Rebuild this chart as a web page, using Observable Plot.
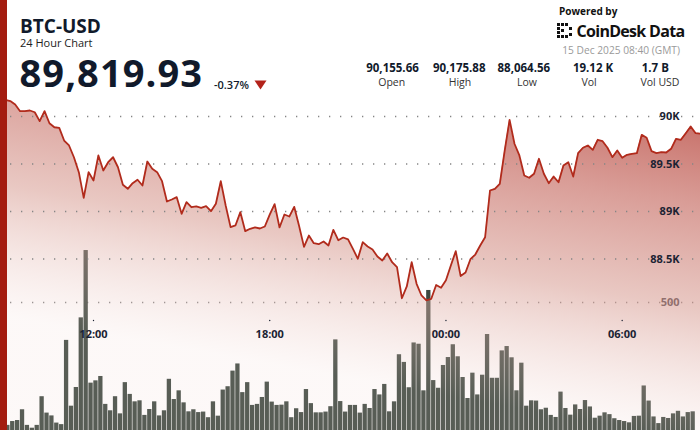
<!DOCTYPE html>
<html><head><meta charset="utf-8">
<script src="https://cdn.jsdelivr.net/npm/d3@7"></script>
<script src="https://cdn.jsdelivr.net/npm/@observablehq/plot@0.6"></script>
<style>
html,body{margin:0;padding:0;background:#fff;overflow:hidden}
#wrap{position:relative;width:700px;height:430px;font-family:"Open Sans",sans-serif;color:#111a2b;overflow:hidden}
#wrap svg{position:absolute;left:0;top:0}
.abs{position:absolute;white-space:nowrap;line-height:1}
#stripe{position:absolute;left:0;top:0;width:7px;height:430px;background:#a41c10;z-index:5}
.hdr{z-index:4}
.c{transform:translateX(-50%)}
</style></head>
<body><div id="wrap">
<div id="stripe"></div>
<div class="abs hdr" id="sym" style="left:20px;top:17.4px;font-size:19px;font-weight:700;"></div>
<div class="abs hdr" style="left:20px;top:37.4px;font-size:11px;color:#222;">24 Hour Chart</div>
<div class="abs hdr" id="price" style="left:19.5px;top:52.5px;font-size:38px;font-weight:700;letter-spacing:1.1px"></div>
<div class="abs hdr" id="chg" style="left:214px;top:79px;font-size:11px;font-weight:600;"></div>
<svg class="hdr" style="left:254px;top:80px;width:13px;height:10px;position:absolute" viewBox="0 0 13 10"><path d="M0.5,0.5 L12.5,0.5 L6.5,9.5 Z" fill="#b3221a"/></svg>
<div class="abs hdr" style="left:559px;top:5.6px;font-size:10px;font-weight:700;color:#111;">Powered by</div>
<svg class="hdr" style="left:557px;top:23px;width:16px;height:15px;position:absolute" viewBox="0 0 16 15">
<g fill="#111"><rect x="0" y="0" width="3" height="3"/><rect x="4" y="0" width="3" height="3"/><rect x="8" y="0" width="3" height="3"/><rect x="0" y="4" width="3" height="3"/><rect x="0" y="8" width="3" height="3"/><rect x="0" y="12" width="3" height="3"/><rect x="4" y="12" width="3" height="3"/><rect x="8" y="12" width="3" height="3"/><rect x="4" y="6" width="3" height="3"/><rect x="12" y="4" width="3" height="3"/><rect x="12" y="10" width="3" height="3"/></g></svg>
<div class="abs hdr" style="left:576.5px;top:23px;font-size:16px;font-weight:700;color:#111;letter-spacing:-0.7px">CoinDesk Data</div>
<div class="abs hdr" id="stamp" style="right:20px;top:45.2px;font-size:10.2px;color:#9a9a9a;"></div>
<div id="stats"></div>
</div>
<script>
// ---- header values ----
const symbol = "BTC-USD";
const lastPrice = "89,819.93";
const changePct = "-0.37%";
const stampText = "15 Dec 2025 08:40 (GMT)";
const statValues = ["90,155.66", "90,175.88", "88,064.56", "19.12 K", "1.7 B"];
const statLabels = ["Open", "High", "Low", "Vol", "Vol USD"];

// ---- series (10-minute steps from 14 Dec 2025 08:50 UTC) ----
const prices = [
90165,90176,90163,90126,90056,90056,90063,90045,89951,90056,
89929,89887,89881,89747,89695,89571,89414,89144,89414,89326,
89590,89432,89519,89571,89466,89281,89239,89298,89334,89274,
89526,89449,89414,89319,89105,89126,89151,88976,89098,89045,
89053,89039,89056,89003,89081,89319,89063,88835,88853,88993,
88793,88818,88832,88821,88842,88968,89077,88832,88968,88947,
89049,88847,88628,88747,88666,88656,88684,88642,88807,88698,
88726,88707,88607,88502,88677,88632,88600,88526,88484,88558,
88466,88414,88087,88211,88466,88239,88116,88065,88081,88226,
88197,88277,88432,88582,88321,88358,88498,88547,88642,88729,
89221,89239,89292,89642,89965,89713,89590,89379,89355,89397,
89555,89397,89298,89368,89308,89484,89519,89368,89614,89671,
89695,89649,89755,89740,89671,89572,89642,89565,89597,89607,
89614,89807,89776,89635,89614,89624,89621,89660,89765,89755,
89824,89895,89824,89820];
const volumes = [
60,20,35,39,81,20,9,20,132,68,
57,29,23,352,95,168,440,703,185,194,
211,102,77,132,65,187,141,112,116,59,
82,112,57,77,200,121,155,108,73,81,
70,72,50,112,56,158,171,232,260,148,
187,98,102,129,189,111,98,99,112,50,
85,70,160,105,69,69,72,93,354,113,
72,98,98,68,102,86,160,139,180,73,
112,296,266,167,342,337,155,547,195,165,
254,285,335,288,207,125,224,139,216,375,
204,204,311,328,284,155,263,95,116,115,
81,87,59,51,150,86,60,100,82,117,
92,48,56,69,62,46,39,35,30,55,
56,174,115,53,27,51,47,65,75,53,
70,73];
const priceTicks = [88500, 89000, 89500, 90000];
const volTicks = [500];
const timeTickLabels = ["12:00", "18:00", "00:00", "06:00"];

const start = Date.UTC(2025, 11, 14, 8, 50);
const step = 10 * 60 * 1000;
const end = Date.UTC(2025, 11, 15, 8, 40);
const priceData = prices.map((p, i) => ({t: new Date(start + i * step), p}));
const volData = volumes.map((v, i) => ({t1: new Date(start + i * step), t2: new Date(start + (i + 1) * step), v}));
const timeTicks = [Date.UTC(2025,11,14,12), Date.UTC(2025,11,14,18), Date.UTC(2025,11,15,0), Date.UTC(2025,11,15,6)].map(d => new Date(d));

// header text
document.getElementById("sym").textContent = symbol;
document.getElementById("price").textContent = lastPrice;
document.getElementById("chg").textContent = changePct;
document.getElementById("stamp").textContent = stampText;
const valX = [392.5, 459.2, 523.8, 593, 655.3];
const labX = [391.7, 460, 527, 589, 660];
const stats = document.getElementById("stats");
statValues.forEach((v, i) => {
  const a = document.createElement("div");
  a.className = "abs hdr c"; a.style.cssText = `left:${valX[i]}px;top:62.3px;font-size:11.5px;font-weight:700;`;
  a.textContent = v; stats.appendChild(a);
  const b = document.createElement("div");
  b.className = "abs hdr c"; b.style.cssText = `left:${labX[i]}px;top:77.3px;font-size:10.5px;color:#333;`;
  b.textContent = statLabels[i]; stats.appendChild(b);
});

const W = 700, H = 430;
const font = "Open Sans";
const gridStyle = {stroke: "#858585", strokeWidth: 1.3, strokeDasharray: "1.3 9.7", insetLeft: 10, insetRight: 6};

// volume layer (below)
const volPlot = Plot.plot({
  width: W, height: H, margin: 0,
  style: {fontFamily: font, background: "white"},
  x: {type: "utc", domain: [new Date(start), new Date(end)], axis: null},
  y: {domain: [0, 500], range: [430, 302], axis: null},
  marks: [
    Plot.ruleY(volTicks, gridStyle),
    Plot.rectY(volData, {x1: "t1", x2: "t2", y: "v", fill: "#3d4840", insetLeft: 0.3, insetRight: 0.3}),
    Plot.text(volTicks, {y: d => d, text: d => String(d), frameAnchor: "right", dx: -21, textAnchor: "end", fontSize: 11, fontWeight: 700, fill: "#3a3a44"})
  ]
});

// price layer (above)
const yRange = [258.5, 116];
const yFloor = d3.scaleLinear([88500, 90000], yRange).invert(H);
const pricePlot = Plot.plot({
  width: W, height: H, margin: 0,
  style: {fontFamily: font, background: "transparent"},
  x: {type: "utc", domain: [new Date(start), new Date(end)], axis: null},
  y: {domain: [88500, 90000], range: yRange, axis: null},
  marks: [
    Plot.areaY(priceData, {x: "t", y1: yFloor, y2: "p", fill: "url(#areaGrad)"}),
    Plot.ruleY(priceTicks, gridStyle),
    Plot.line(priceData, {x: "t", y: "p", stroke: "#b12b1c", strokeWidth: 1.8}),
    Plot.text(priceTicks, {y: d => d, text: d => (d / 1000) + "K", frameAnchor: "right", dx: -21, textAnchor: "end", fontSize: 11, fontWeight: 700, fill: "#1b2333"}),
    Plot.dot(timeTicks, {x: d => d, frameAnchor: "bottom", dy: -110, r: 0.7, fill: "#1b2333"}),
    Plot.text(timeTicks, {x: d => d, text: (d, i) => timeTickLabels[i], frameAnchor: "bottom", dy: -93, fontSize: 11, fontWeight: 700, fill: "#1b2333"})
  ]
});
const ns = "http://www.w3.org/2000/svg";
const defs = document.createElementNS(ns, "defs");
defs.innerHTML = `<linearGradient id="areaGrad" gradientUnits="userSpaceOnUse" x1="700" y1="95" x2="640" y2="430">
<stop offset="0" stop-color="rgb(172,42,32)" stop-opacity="0.75"/>
<stop offset="0.32" stop-color="rgb(192,92,82)" stop-opacity="0.6"/>
<stop offset="0.62" stop-color="rgb(215,155,145)" stop-opacity="0.55"/>
<stop offset="1" stop-color="rgb(240,212,207)" stop-opacity="0.15"/>
</linearGradient>`;
pricePlot.prepend(defs);
const wrap = document.getElementById("wrap");
wrap.insertBefore(volPlot, wrap.firstChild);
wrap.insertBefore(pricePlot, volPlot.nextSibling);
</script>
</body></html>
